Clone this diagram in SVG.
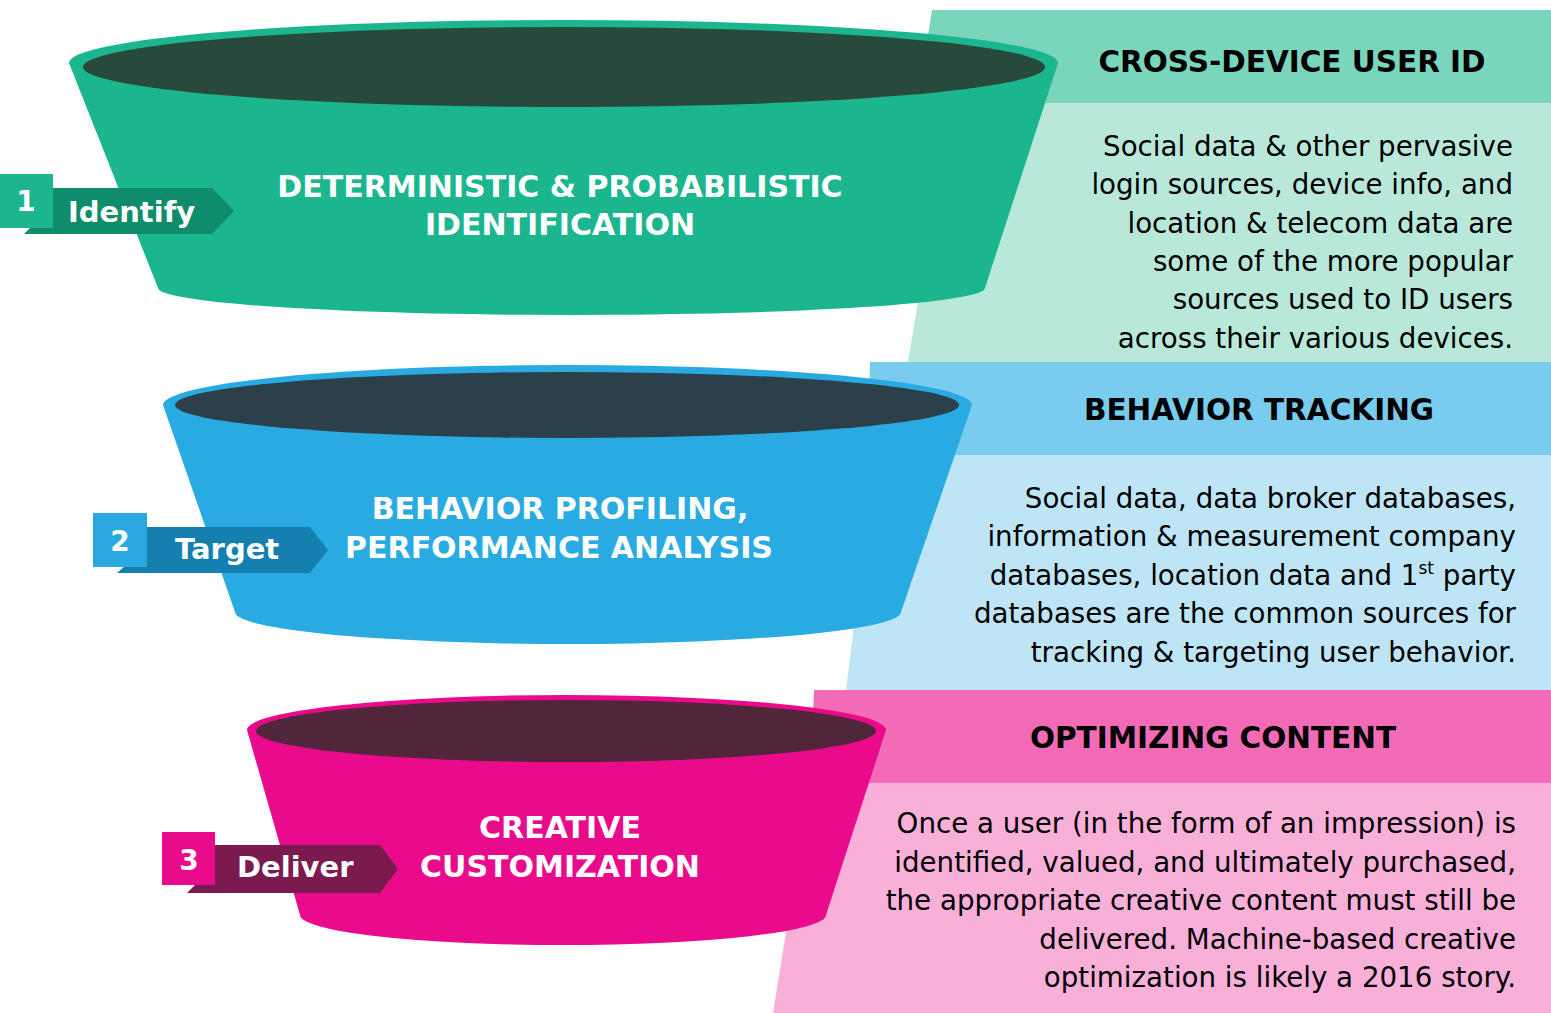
<svg xmlns="http://www.w3.org/2000/svg" width="1551" height="1013" viewBox="0 0 1551 1013">
<style>
.ftxt{font-family:"DejaVu Sans",Verdana,sans-serif;font-weight:bold;font-size:30px;fill:#ffffff;text-anchor:middle}
.htxt{font-family:"DejaVu Sans",Verdana,sans-serif;font-weight:bold;font-size:29.5px;fill:#000000;text-anchor:middle}
.btxt{font-family:"DejaVu Sans",Verdana,sans-serif;font-size:27.7px;fill:#000000;text-anchor:end}
.num{font-family:"DejaVu Sans",Verdana,sans-serif;font-weight:bold;font-size:28px;fill:#ffffff;text-anchor:middle}
.lbl{font-family:"DejaVu Sans",Verdana,sans-serif;font-weight:bold;font-size:29px;fill:#ffffff}
</style>
<rect x="0" y="0" width="1551" height="1013" fill="#ffffff"/>

<g id="panel-cross-device">
  <polygon points="951,103 1551,103 1551,362 908,362" fill="#B8E8DA"/>
  <polygon points="932,10 1551,10 1551,103 917,103" fill="#79D5BC"/>
  <text class="htxt" x="1292" y="72">CROSS-DEVICE USER ID</text>
  <text class="btxt" x="1513" y="156">Social data &amp; other pervasive</text>
  <text class="btxt" x="1513" y="194.3">login sources, device info, and</text>
  <text class="btxt" x="1513" y="232.6">location &amp; telecom data are</text>
  <text class="btxt" x="1513" y="271">some of the more popular</text>
  <text class="btxt" x="1513" y="309.3">sources used to ID users</text>
  <text class="btxt" x="1513" y="347.6">across their various devices.</text>
</g>

<g id="panel-behavior">
  <polygon points="875,455 1551,455 1551,690 846,690" fill="#BDE5F6"/>
  <polygon points="870,362 1551,362 1551,455 868,455" fill="#7ACCEE"/>
  <text class="htxt" x="1259" y="420">BEHAVIOR TRACKING</text>
  <text class="btxt" x="1516" y="507.5">Social data, data broker databases,</text>
  <text class="btxt" x="1516" y="546">information &amp; measurement company</text>
  <text class="btxt" x="1516" y="584.5">databases, location data and 1<tspan font-size="17" dy="-11">st</tspan><tspan dy="11"> party</tspan></text>
  <text class="btxt" x="1516" y="623">databases are the common sources for</text>
  <text class="btxt" x="1516" y="661.5">tracking &amp; targeting user behavior.</text>
</g>

<g id="panel-optimizing">
  <polygon points="810,783 1551,783 1551,1013 773,1013" fill="#F8B0D9"/>
  <polygon points="814,690 1551,690 1551,783 811,783" fill="#F36BB6"/>
  <text class="htxt" x="1213" y="748">OPTIMIZING CONTENT</text>
  <text class="btxt" x="1516" y="833">Once a user (in the form of an impression) is</text>
  <text class="btxt" x="1516" y="871.5">identified, valued, and ultimately purchased,</text>
  <text class="btxt" x="1516" y="910">the appropriate creative content must still be</text>
  <text class="btxt" x="1516" y="948.5">delivered. Machine-based creative</text>
  <text class="btxt" x="1516" y="987">optimization is likely a 2016 story.</text>
</g>

<g id="funnel-identify">
  <path d="M69,63 L158,288 A413.5,27 0 0 0 985,288 L1058,63 A494.5,43 0 0 0 69,63 Z" fill="#1CB68E"/>
  <ellipse cx="564" cy="67" rx="481" ry="40" fill="#284A3C"/>
  <text class="ftxt" x="560" y="197">DETERMINISTIC &amp; PROBABILISTIC</text>
  <text class="ftxt" x="560" y="235">IDENTIFICATION</text>
</g>

<g id="funnel-target">
  <path d="M163,405 L235,612 A333,32 0 0 0 901,612 L972,405 A404.5,40 0 0 0 163,405 Z" fill="#29ABE2"/>
  <ellipse cx="567" cy="405" rx="392" ry="33" fill="#2B404A"/>
  <text class="ftxt" x="560" y="519">BEHAVIOR PROFILING,</text>
  <text class="ftxt" x="559" y="558">PERFORMANCE ANALYSIS</text>
</g>

<g id="funnel-deliver">
  <path d="M247,730 L300,915 A263,30 0 0 0 826,915 L886,730 A319.5,35 0 0 0 247,730 Z" fill="#EA0B8C"/>
  <ellipse cx="566" cy="731" rx="310" ry="31" fill="#51253A"/>
  <text class="ftxt" x="560" y="838">CREATIVE</text>
  <text class="ftxt" x="560" y="877">CUSTOMIZATION</text>
</g>

<g id="badge-identify">
  <polygon points="45,188 212,188 234,211 212,234 24,234 32,226 45,226" fill="#0F8C69"/>
  <rect x="0" y="174" width="53" height="54" fill="#1DB58D"/>
  <text class="num" x="26" y="211">1</text>
  <text class="lbl" x="68" y="222">Identify</text>
</g>

<g id="badge-target">
  <polygon points="140,527 310,527 328,550 310,573 117,573 125,566 140,566" fill="#1580AF"/>
  <rect x="93" y="513" width="54" height="54" fill="#29A8E0"/>
  <text class="num" x="120" y="551">2</text>
  <text class="lbl" x="175" y="559">Target</text>
</g>

<g id="badge-deliver">
  <polygon points="208,845 380,845 398,869 380,893 187,893 195,885 208,885" fill="#7B1A4E"/>
  <rect x="162" y="832" width="53" height="53" fill="#EA0B8C"/>
  <text class="num" x="189" y="870">3</text>
  <text class="lbl" x="237" y="877">Deliver</text>
</g>

<g id="connectors"></g>
</svg>
